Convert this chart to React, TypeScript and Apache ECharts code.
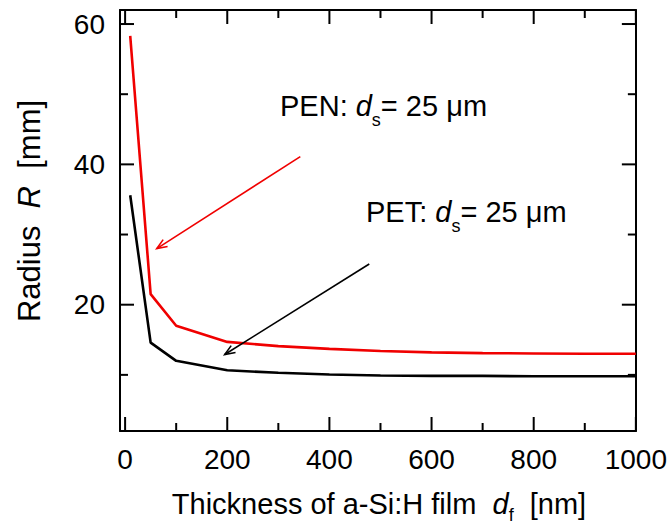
import React, { useEffect, useRef } from "react";
import * as echarts from "echarts";

const thickness = [10, 50, 100, 200, 300, 400, 500, 600, 700, 800, 900, 1000];
const penRadius = [58.3, 21.5, 17.0, 14.7, 14.1, 13.7, 13.4, 13.2, 13.1, 13.05, 13.0, 13.0];
const petRadius = [35.6, 14.6, 12.0, 10.65, 10.3, 10.05, 9.9, 9.85, 9.85, 9.8, 9.8, 9.8];

const xMajor = [0, 200, 400, 600, 800, 1000];
const xMinor = [100, 300, 500, 700, 900];
const yMajor = [20, 40, 60];
const yMinor = [10, 30, 50];

// arrows: [fromX, fromY, toX, toY] in data units
const penArrow = [343, 41.1, 62, 28.0];
const petArrow = [478, 25.8, 195, 12.9];

const FONT = '"Liberation Sans", Arial, Helvetica, sans-serif';
const RED = "#f00000";
const X_MIN = -10, X_MAX = 1000, Y_MIN = 2, Y_MAX = 62;

type Part = { t: string; size: number; italic?: boolean; dy?: number };

function measure(text: string, size: number, italic?: boolean) {
  const ctx = document.createElement("canvas").getContext("2d");
  if (!ctx) return text.length * size * 0.55;
  ctx.font = `${italic ? "italic " : ""}${size}px ${FONT}`;
  return ctx.measureText(text).width;
}

function richLine(parts: Part[], x: number, baseline: number, align: "left" | "center") {
  const widths = parts.map((p) => measure(p.t, p.size, p.italic));
  const total = widths.reduce((a, b) => a + b, 0);
  let cx = align === "center" ? x - total / 2 : x;
  return parts.map((p, i) => {
    const el = {
      type: "text",
      x: cx,
      y: baseline + (p.dy || 0) - 0.3465 * p.size,
      silent: true,
      style: {
        text: p.t,
        fontSize: p.size,
        fontStyle: p.italic ? "italic" : "normal",
        fontFamily: FONT,
        fill: "#000",
        align: "left",
        verticalAlign: "middle",
      },
    };
    cx += widths[i];
    return el;
  });
}

function tickSeries(values: number[], axis: "x" | "y", len: number) {
  return {
    type: "custom",
    coordinateSystem: "cartesian2d",
    xAxisIndex: 0,
    yAxisIndex: 0,
    silent: true,
    clip: false,
    z: 5,
    data: values.map((v) => (axis === "x" ? [v, Y_MIN] : [X_MIN, v])),
    renderItem: (_params: any, api: any) => {
      const style = { stroke: "#000", lineWidth: 2 };
      if (axis === "x") {
        const v = api.value(0);
        const b = api.coord([v, Y_MIN]);
        const t = api.coord([v, Y_MAX]);
        return {
          type: "group",
          children: [
            { type: "line", shape: { x1: b[0], y1: b[1], x2: b[0], y2: b[1] - len }, style },
            { type: "line", shape: { x1: t[0], y1: t[1], x2: t[0], y2: t[1] + len }, style },
          ],
        };
      }
      const v = api.value(1);
      const l = api.coord([X_MIN, v]);
      const r = api.coord([X_MAX, v]);
      return {
        type: "group",
        children: [
          { type: "line", shape: { x1: l[0], y1: l[1], x2: l[0] + len, y2: l[1] }, style },
          { type: "line", shape: { x1: r[0], y1: r[1], x2: r[0] - len, y2: r[1] }, style },
        ],
      };
    },
  };
}

function arrowSeries(arrow: number[], color: string) {
  return {
    type: "custom",
    coordinateSystem: "cartesian2d",
    xAxisIndex: 0,
    yAxisIndex: 0,
    silent: true,
    clip: false,
    z: 4,
    data: [arrow],
    renderItem: (_params: any, api: any) => {
      const p1 = api.coord([api.value(0), api.value(1)]);
      const p2 = api.coord([api.value(2), api.value(3)]);
      const a = Math.atan2(p2[1] - p1[1], p2[0] - p1[0]);
      const hl = 11, ha = 0.38;
      const h1 = [p2[0] - hl * Math.cos(a - ha), p2[1] - hl * Math.sin(a - ha)];
      const h2 = [p2[0] - hl * Math.cos(a + ha), p2[1] - hl * Math.sin(a + ha)];
      const style = { stroke: color, lineWidth: 1.6, fill: "none" };
      return {
        type: "group",
        children: [
          { type: "line", shape: { x1: p1[0], y1: p1[1], x2: p2[0], y2: p2[1] }, style },
          { type: "polyline", shape: { points: [h1, p2, h2] }, style },
        ],
      };
    },
  };
}

export default function App() {
  const ref = useRef<HTMLDivElement>(null);
  useEffect(() => {
    if (!ref.current) return;
    const chart = echarts.init(ref.current, undefined, { renderer: "svg" });
    const lineStyle = { color: "#000", width: 2 };
    const baseAxis = {
      type: "value",
      splitLine: { show: false },
      axisTick: { show: false },
      axisLine: { show: true, onZero: false, lineStyle },
    };
    chart.setOption({
      animation: false,
      backgroundColor: "#fff",
      grid: { left: 120, right: 33, top: 10, bottom: 95, containLabel: false },
      xAxis: [
        {
          ...baseAxis,
          position: "bottom",
          min: X_MIN,
          max: X_MAX,
          axisLabel: {
            customValues: xMajor,
            formatter: (v: number) => String(v),
            fontSize: 28,
            color: "#000",
            fontFamily: FONT,
            margin: 14,
          },
        },
        { ...baseAxis, position: "top", min: X_MIN, max: X_MAX, axisLabel: { show: false } },
      ],
      yAxis: [
        {
          ...baseAxis,
          position: "left",
          min: Y_MIN,
          max: Y_MAX,
          axisLabel: {
            customValues: yMajor,
            formatter: (v: number) => String(v),
            fontSize: 28,
            color: "#000",
            fontFamily: FONT,
            margin: 15,
          },
        },
        { ...baseAxis, position: "right", min: Y_MIN, max: Y_MAX, axisLabel: { show: false } },
      ],
      series: [
        {
          type: "line",
          name: "PEN",
          data: thickness.map((t, i) => [t, penRadius[i]]),
          showSymbol: false,
          lineStyle: { color: RED, width: 2.6 },
          itemStyle: { color: RED },
          z: 3,
        },
        {
          type: "line",
          name: "PET",
          data: thickness.map((t, i) => [t, petRadius[i]]),
          showSymbol: false,
          lineStyle: { color: "#000", width: 2.6 },
          itemStyle: { color: "#000" },
          z: 3,
        },
        tickSeries(xMajor, "x", 14),
        tickSeries(xMinor, "x", 8),
        tickSeries(yMajor, "y", 14),
        tickSeries(yMinor, "y", 8),
        arrowSeries(penArrow, RED),
        arrowSeries(petArrow, "#000"),
      ],
      graphic: [
        ...richLine(
          [
            { t: "PEN: ", size: 29 },
            { t: "d", size: 29, italic: true },
            { t: "s", size: 18, dy: 10 },
            { t: "= 25 μm", size: 29 },
          ],
          280,
          116,
          "left"
        ),
        ...richLine(
          [
            { t: "PET: ", size: 29 },
            { t: "d", size: 29, italic: true },
            { t: "s", size: 18, dy: 10 },
            { t: "= 25 μm", size: 29 },
          ],
          366,
          222,
          "left"
        ),
        ...richLine(
          [
            { t: "Thickness of a-Si:H film  ", size: 29 },
            { t: "d", size: 29, italic: true },
            { t: "f", size: 18, dy: 7 },
            { t: "  [nm]", size: 29 },
          ],
          379,
          514,
          "center"
        ),
        {
          type: "text",
          x: 29,
          y: 211,
          rotation: Math.PI / 2,
          silent: true,
          style: {
            text: "Radius  {i|R}  [mm]",
            fontSize: 31,
            fontFamily: FONT,
            fill: "#000",
            align: "center",
            verticalAlign: "middle",
            rich: { i: { fontSize: 31, fontStyle: "italic", fontFamily: FONT, fill: "#000" } },
          },
        },
      ],
    });
    return () => chart.dispose();
  }, []);
  return <div ref={ref} style={{ width: 670, height: 526, position: "absolute", left: 0, top: 0 }} />;
}
